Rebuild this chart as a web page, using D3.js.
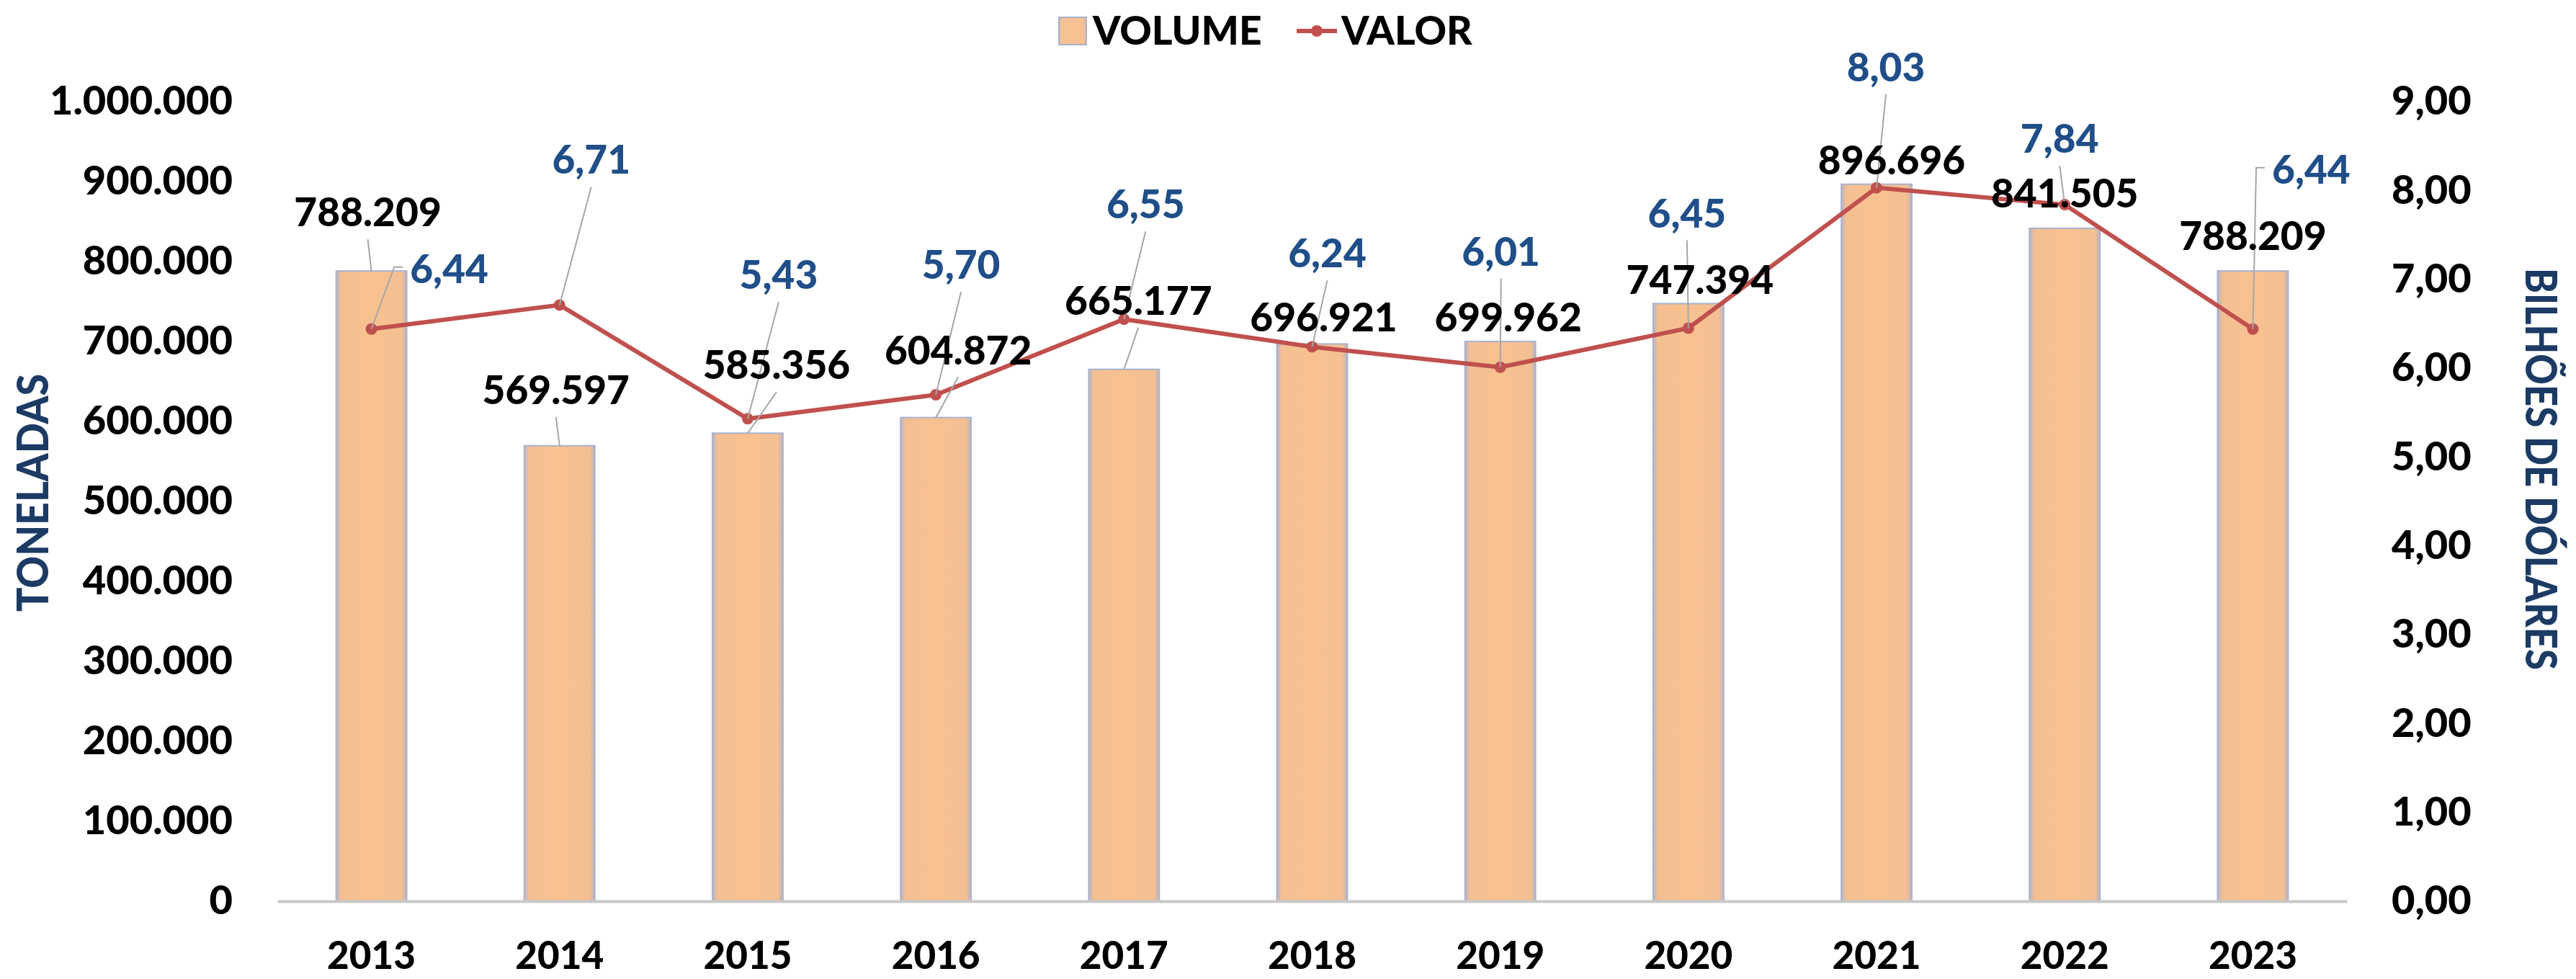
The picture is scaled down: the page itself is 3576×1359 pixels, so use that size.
<!DOCTYPE html>
<html>
<head>
<meta charset="utf-8">
<script src="https://cdn.jsdelivr.net/npm/d3@7"></script>
<style>
  body { margin: 0; background: #fff; }
  text { font-family: Lato, "Open Sans", sans-serif; font-weight: 900; }
</style>
</head>
<body>
<div id="chart"></div>
<script>
// data
const years = ["2013", "2014", "2015", "2016", "2017", "2018", "2019", "2020", "2021", "2022", "2023"];
const volume = [788209, 569597, 585356, 604872, 665177, 696921, 699962, 747394, 896696, 841505, 788209];
const valor = [6.44, 6.71, 5.43, 5.70, 6.55, 6.24, 6.01, 6.45, 8.03, 7.84, 6.44];
const volTicks = [0, 100000, 200000, 300000, 400000, 500000, 600000, 700000, 800000, 900000, 1000000];
const valTicks = [0, 1, 2, 3, 4, 5, 6, 7, 8, 9];

// where the moved data labels sit (label centre minus anchor)
const volLabelOffset = [[-5, -82], [-5, -78], [40, -95], [31, -94], [20, -96], [16, -37], [11, -34], [16, -33], [21, -34], [0, -49], [0, -49]];
const valLabelOffset = [[108, -84], [44, -202], [43, -200], [35, -181], [30, -160], [21, -130], [1, -161], [-2, -160], [13, -168], [-7, -92], [81, -222]];

const W = 3576, H = 1359;
const plot = { left: 385, right: 3258, top: 141, bottom: 1251 };

const br = d3.formatLocale({ decimal: ",", thousands: ".", grouping: [3], currency: ["R$", ""] });
const fmtVol = br.format(",d");
const fmtVal = br.format(",.2f");

const svg = d3.select("#chart").append("svg")
  .attr("width", W)
  .attr("height", H);

const defs = svg.append("defs");
const grad = defs.append("linearGradient").attr("id", "barGrad");
[[0, "#b8b4c2"], [0.07, "#f3bf93"], [0.5, "#f8c190"], [0.93, "#f3bf93"], [1, "#b8b4c2"]].forEach(s => {
  grad.append("stop").attr("offset", s[0]).attr("stop-color", s[1]);
});

const x = d3.scaleBand()
  .domain(years)
  .range([plot.left, plot.right])
  .paddingInner(0.625)
  .paddingOuter(0.3125);

const yL = d3.scaleLinear().domain([0, 1000000]).range([plot.bottom, plot.top]);
const yR = d3.scaleLinear().domain([0, 9]).range([plot.bottom, plot.top]);
const cx = d => x(d) + x.bandwidth() / 2;

// left axis labels
const axL = svg.append("g")
  .attr("transform", `translate(${plot.left},0)`)
  .call(d3.axisLeft(yL).tickValues(volTicks).tickFormat(fmtVol).tickSize(0).tickPadding(62));
axL.select(".domain").remove();
axL.selectAll("text").attr("font-size", 56).attr("fill", "#000").attr("font-family", null);

// right axis labels
const axR = svg.append("g")
  .attr("transform", `translate(${plot.right},0)`)
  .call(d3.axisRight(yR).tickValues(valTicks).tickFormat(fmtVal).tickSize(0).tickPadding(62));
axR.select(".domain").remove();
axR.selectAll("text").attr("font-size", 56).attr("fill", "#000").attr("font-family", null);

// bars
svg.append("g").selectAll("rect")
  .data(years)
  .join("rect")
  .attr("x", d => x(d))
  .attr("y", (d, i) => yL(volume[i]))
  .attr("width", x.bandwidth())
  .attr("height", (d, i) => plot.bottom - yL(volume[i]))
  .attr("fill", "url(#barGrad)")
  .attr("stroke", "#a9b3cf")
  .attr("stroke-width", 2);

// category axis
const axB = svg.append("g")
  .attr("transform", `translate(0,${plot.bottom})`)
  .call(d3.axisBottom(x).tickSize(0).tickPadding(56));
axB.select(".domain").attr("stroke", "#c8c8c8").attr("stroke-width", 4);
axB.selectAll("text").attr("font-size", 53).attr("fill", "#000").attr("font-family", null);

// line
const line = d3.line()
  .x((d, i) => cx(years[i]))
  .y(d => yR(d));

svg.append("path")
  .datum(valor)
  .attr("d", line)
  .attr("fill", "none")
  .attr("stroke", "#c0504d")
  .attr("stroke-width", 6);

svg.append("g").selectAll("circle")
  .data(valor)
  .join("circle")
  .attr("cx", (d, i) => cx(years[i]))
  .attr("cy", d => yR(d))
  .attr("r", 8)
  .attr("fill", "#c0504d");

// data labels with leader lines
const leaders = svg.append("g");
const labels = svg.append("g");

function addLabel(txt, ax, ay, off, color) {
  const lx = ax + off[0], ly = ay + off[1];
  const t = labels.append("text")
    .attr("x", lx)
    .attr("y", ly + 20)
    .attr("text-anchor", "middle")
    .attr("font-size", 55)
    .attr("fill", color)
    .text(txt);
  const w = t.node().getComputedTextLength();
  const left = lx - w / 2;
  let pts = null;
  if (left > ax) {
    const ex = left - 10, ey = ly - 2;
    pts = [[ax, ay], [ex - 12, ey], [ex, ey]];
  } else {
    const ey = ly + 20 + 18;
    if (ay - ey > 15) pts = [[ax, ay], [lx, ey]];
  }
  if (pts) {
    leaders.append("path")
      .attr("d", d3.line()(pts))
      .attr("fill", "none")
      .attr("stroke", "#a6a6a6")
      .attr("stroke-width", 2);
  }
}

years.forEach((yr, i) => {
  addLabel(fmtVol(volume[i]), cx(yr), yL(volume[i]), volLabelOffset[i], "#000");
  addLabel(fmtVal(valor[i]), cx(yr), yR(valor[i]), valLabelOffset[i], "#1f4e89");
});

// axis titles
svg.append("text")
  .attr("transform", "translate(67,684) rotate(-90)")
  .attr("text-anchor", "middle")
  .attr("font-size", 60)
  .attr("fill", "#1c3b64")
  .attr("textLength", 330)
  .attr("lengthAdjust", "spacingAndGlyphs")
  .text("TONELADAS");

svg.append("text")
  .attr("transform", "translate(3506,651) rotate(90)")
  .attr("text-anchor", "middle")
  .attr("font-size", 60)
  .attr("fill", "#1c3b64")
  .attr("textLength", 558)
  .attr("lengthAdjust", "spacingAndGlyphs")
  .text("BILHÕES DE DÓLARES");

// legend
const lg = svg.append("g");
lg.append("rect")
  .attr("x", 1470).attr("y", 24)
  .attr("width", 38).attr("height", 38)
  .attr("fill", "url(#barGrad)")
  .attr("stroke", "#a9b3cf").attr("stroke-width", 2);
lg.append("text")
  .attr("x", 1517).attr("y", 62)
  .attr("font-size", 55)
  .text("VOLUME");
lg.append("line")
  .attr("x1", 1800).attr("x2", 1856)
  .attr("y1", 43).attr("y2", 43)
  .attr("stroke", "#c0504d").attr("stroke-width", 6);
lg.append("circle")
  .attr("cx", 1828).attr("cy", 43).attr("r", 8)
  .attr("fill", "#c0504d");
lg.append("text")
  .attr("x", 1862).attr("y", 62)
  .attr("font-size", 55)
  .text("VALOR");
</script>
</body>
</html>
